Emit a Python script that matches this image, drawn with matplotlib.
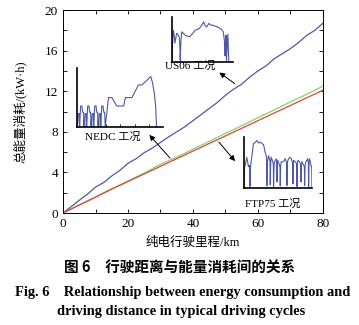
import matplotlib
matplotlib.use('Agg')
import matplotlib.pyplot as plt

plt.rcParams['font.family'] = ['Liberation Serif', 'Noto Sans CJK SC']
plt.rcParams['axes.unicode_minus'] = False

# 主图: 纯电行驶里程 vs 总能量消耗
km_blue = [0, 2.5, 5, 7.5, 10, 12.5, 15, 17.5, 20, 22.5, 25, 27.5, 30, 32.5, 35, 37.5,
           40, 42.5, 45, 47.5, 50, 52.5, 55, 57.5, 60, 62.5, 65, 67.5, 70, 72.5, 75, 77.5, 80]
e_blue = [0, 0.62, 1.25, 1.85, 2.55, 3.0, 3.65, 4.2, 4.9, 5.35, 5.95, 6.4, 6.95, 7.5, 8.0, 8.5,
          9.1, 9.7, 10.3, 10.9, 11.6, 12.2, 12.7, 13.4, 14.0, 14.5, 15.2, 15.7, 16.2, 16.8, 17.5, 18.0, 18.7]
km_5 = [0, 5, 10, 15, 20, 25, 30, 35, 40, 45, 50, 55, 60, 65, 70, 75, 80]
e_green = [0, 0.8, 1.6, 2.4, 3.15, 3.95, 4.8, 5.5, 6.3, 7.05, 7.85, 8.6, 9.4, 10.15, 10.95, 11.7, 12.5]
e_red = [0, 0.78, 1.55, 2.35, 3.1, 3.85, 4.6, 5.35, 6.1, 6.85, 7.6, 8.35, 9.1, 9.85, 10.6, 11.35, 12.1]

# 小图: 工况车速 vs 距离
nedc_km = [0.0, 0.02, 0.05, 0.07, 0.15, 0.30, 0.36, 0.50, 0.68, 0.78, 0.90, 0.975,
           0.995, 1.025, 1.045, 1.125, 1.275, 1.335, 1.475, 1.655, 1.755, 1.875, 1.95,
           1.97, 2.00, 2.02, 2.10, 2.25, 2.31, 2.45, 2.63, 2.73, 2.85, 2.925,
           2.945, 2.975, 2.995, 3.075, 3.225, 3.285, 3.425, 3.605, 3.705, 3.825, 3.90,
           4.36, 4.83, 5.5, 6.45, 6.7, 7.6, 8.5, 9.0, 10.2, 10.45, 10.7, 10.88, 11.0]
nedc_v = [0, 15, 15, 0, 32, 32, 0, 50, 50, 35, 35, 0,
          15, 15, 0, 32, 32, 0, 50, 50, 35, 35, 0,
          15, 15, 0, 32, 32, 0, 50, 50, 35, 35, 0,
          15, 15, 0, 32, 32, 0, 50, 50, 35, 35, 0,
          70, 70, 50, 50, 70, 70, 100, 100, 120, 105, 80, 50, 0]

us06_km = [0, 0.15, 0.3, 0.5, 0.66, 0.85, 1.0, 1.3, 1.6, 1.72,
           1.78, 1.9, 2.1, 2.5, 2.8, 3.3, 3.8, 4.3, 5.0, 5.5,
           5.9, 6.4, 6.8, 7.1, 7.5, 7.9, 8.3, 8.8, 9.3, 9.7,
           10.2, 10.6, 11.0, 11.25, 11.4, 11.5, 11.6, 11.7, 11.85, 12.0, 12.2]
us06_v = [0, 60, 103, 85, 61, 80, 93, 88, 80, 40,
          5, 60, 98, 92, 87, 84, 82, 90, 103, 106,
          109, 119, 130, 118, 114, 125, 120, 119, 116, 114,
          110, 106, 98, 70, 20, 60, 87, 5, 50, 90, 0]

ftp_km = [0.0, 0.05, 0.18, 0.47, 0.77, 0.95, 1.03, 1.12, 1.24, 1.45,
          1.65, 1.95, 2.25, 2.55, 2.84, 3.15, 3.43, 3.72, 3.98, 4.02,
          4.12, 4.31, 4.49, 4.58, 4.62, 4.70, 4.79, 5.08, 5.17, 5.21,
          5.30, 5.38, 5.67, 5.76, 5.80, 5.88, 5.97, 6.26, 6.35, 6.39,
          6.47, 6.56, 6.97, 7.27, 7.52, 7.57, 7.64, 7.74, 8.04, 8.33,
          8.58, 8.63, 8.70, 8.75, 9.04, 9.30, 9.34, 9.42, 9.52, 9.81,
          10.00, 10.05, 10.13, 10.22, 10.52, 10.66, 10.70, 10.78, 10.93, 11.23,
          11.37, 11.41, 11.48, 11.58, 11.82, 11.96, 12.0]
ftp_v = [0, 40, 45, 61, 42, 45, 3, 40, 52, 70,
         88, 90, 94, 89, 91, 88, 86, 71, 60, 4,
         50, 64, 58, 52, 6, 50, 61, 52, 45, 3,
         45, 52, 58, 50, 12, 48, 55, 45, 40, 4,
         45, 52, 52, 58, 50, 5, 48, 55, 61, 58,
         50, 8, 50, 55, 52, 48, 3, 48, 55, 52,
         45, 12, 45, 52, 45, 42, 5, 45, 52, 58,
         50, 3, 52, 58, 45, 40, 0]

line_blue = '#4e58a6'

fig = plt.figure(figsize=(3.59, 3.25), dpi=100)
ax = fig.add_axes([0.1755, 0.3446, 0.7242, 0.6246])
ax.plot(km_blue, e_blue, color=line_blue, lw=0.9)
ax.plot(km_5, e_green, color='#8ccf6e', lw=0.9)
ax.plot(km_5, e_red, color='#d8483c', lw=0.9)
ax.set_xlim(0, 80)
ax.set_ylim(0, 20)
ax.set_xticks([0, 20, 40, 60, 80])
ax.set_xticks([10, 30, 50, 70], minor=True)
ax.set_yticks([0, 4, 8, 12, 16, 20])
ax.set_yticks([2, 6, 10, 14, 18], minor=True)
ax.tick_params(which='both', direction='in', top=True, right=True, length=3, width=0.6, labelsize=9.5)
for s in ax.spines.values():
    s.set_linewidth(0.7)

# 箭头
arw = dict(arrowstyle='-|>', color='k', lw=0.7, mutation_scale=8)
ax.annotate('', xy=(26.0, 7.9), xytext=(33.5, 5.2), arrowprops=arw)
ax.annotate('', xy=(47.4, 14.0), xytext=(53.5, 12.6), arrowprops=arw)
ax.annotate('', xy=(53.5, 4.9), xytext=(47.4, 7.2), arrowprops=arw)

def inset(rect, x, y, xmax, ymax):
    a = fig.add_axes(rect)
    a.patch.set_alpha(0)
    a.plot(x, y, color=line_blue, lw=0.8)
    a.set_xlim(0, xmax)
    a.set_ylim(0, ymax)
    a.spines['top'].set_visible(False)
    a.spines['right'].set_visible(False)
    a.spines['left'].set_linewidth(1.2)
    a.spines['bottom'].set_linewidth(1.2)
    a.set_xticks([])
    a.set_yticks([])
    return a

a1 = inset([0.2145, 0.609, 0.2396, 0.1815], nedc_km, nedc_v, 11.9, 140)
a1.set_xticks([2, 4, 6, 8, 10])
a1.tick_params(axis='x', direction='in', length=2, width=0.6, labelbottom=False)
inset([0.479, 0.809, 0.170, 0.138], us06_km, us06_v, 13.1, 145)
inset([0.680, 0.4215, 0.189, 0.157], ftp_km, ftp_v, 12.0, 101)

fig.text(0.315, 0.578, 'NEDC 工况', fontsize=8, ha='center', va='center')
fig.text(0.529, 0.797, 'US06 工况', fontsize=8, ha='center', va='center')
fig.text(0.760, 0.372, 'FTP75 工况', fontsize=8, ha='center', va='center')

fig.text(0.056, 0.657, '总能量消耗/(kW·h)', fontsize=9, rotation=90, ha='center', va='center')
fig.text(0.538, 0.252, '纯电行驶里程/km', fontsize=9, ha='center', va='center')

fig.text(0.5, 0.175, '图 6　行驶距离与能量消耗间的关系', fontsize=10.5, ha='center', va='center',
         family=['Noto Sans CJK SC'], weight='bold')
fig.text(0.51, 0.1015, 'Fig. 6　Relationship between energy consumption and', fontsize=10.4,
         weight='bold', ha='center', va='center')
fig.text(0.505, 0.04, 'driving distance in typical driving cycles', fontsize=10.4,
         weight='bold', ha='center', va='center')

fig.savefig('out.png', dpi=100)
